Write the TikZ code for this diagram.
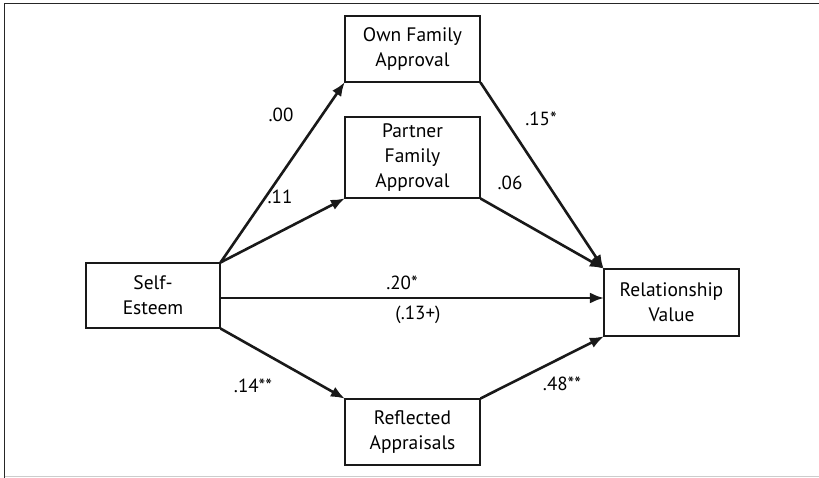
\documentclass[tikz,border=0pt]{standalone}
\usepackage{fontspec}
\setmainfont{PT Sans}
\usetikzlibrary{arrows.meta}
\begin{document}
\begin{tikzpicture}[x=1pt,y=-1pt,
  box/.style={draw=black!90, line width=1.1pt, inner sep=0pt, align=center,
    minimum width=135pt, minimum height=66pt, font=\fontsize{19.5}{25}\selectfont},
  arr/.style={line width=2.6pt, -{Latex[length=14pt,width=11pt]}, black!90, shorten >=-0.5pt},
  lab/.style={font=\fontsize{19}{22}\selectfont, inner sep=0pt}]
\useasboundingbox (0,0) rectangle (819,478);
\coordinate (fa) at (4.5,478);
\coordinate (fb) at (4.5,3.5);
\coordinate (fc) at (819,3.5);
\coordinate (fd) at (4.5,476.5);
\coordinate (fe) at (819,476.5);
\draw[line width=1.2pt, black!85] (fa) -- (fb) -- (fc);
\draw[line width=1pt, black!20] (fd) -- (fe);
\node[box] (own) at (412.5,49) {Own Family\\Approval};
\node[box, minimum height=81pt] (partner) at (412.5,157.5) {Partner\\Family\\Approval};
\node[box, minimum width=134pt, minimum height=65pt] (se) at (153,295.5) {Self-\\Esteem};
\node[box] (refl) at (412.5,432) {Reflected\\Appraisals};
\node[box, minimum height=67pt] (rv) at (671.5,302.5) {Relationship\\Value};
\draw[arr] (se.north east) -- (own.south west);
\draw[arr] (se.north east) -- (partner.south west);
\draw[arr] ([yshift=-2.5pt]se.east) -- ([yshift=-2.5pt]se.east -| rv.west);
\draw[arr] (se.south east) -- (refl.north west);
\draw[arr] (own.south east) -- (rv.north west);
\draw[arr] (partner.south east) -- (rv.north west);
\draw[arr] (refl.north east) -- (rv.south west);
\node[lab] (l00) at (281,115) {.00};
\node[lab] (l11) at (280,197) {.11};
\node[lab] (l15) at (541,119) {.15*};
\node[lab] (l06) at (510,183) {.06};
\node[lab] (l20) at (402,283) {.20*};
\node[lab] (l13) at (418,315) {(.13+)};
\node[lab] (l14) at (253,386) {.14**};
\node[lab] (l48) at (562,384) {.48**};
\end{tikzpicture}
\end{document}
